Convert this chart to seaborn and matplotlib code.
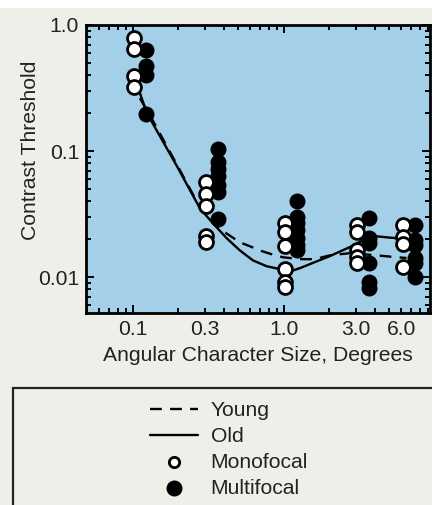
import numpy as np
import pandas as pd
import matplotlib
matplotlib.use("Agg")
import matplotlib.pyplot as plt
import matplotlib.ticker as mticker
from matplotlib.patches import Rectangle
import seaborn as sns

# ---- data ----
sizes = [0.1, 0.3, 1.0, 3.0, 6.0]
mono_vals = {
    0.1: [0.79, 0.65, 0.395, 0.32],
    0.3: [0.0564, 0.0461, 0.0364, 0.0211, 0.0189],
    1.0: [0.0267, 0.0227, 0.0176, 0.0116, 0.0091, 0.0083],
    3.0: [0.0258, 0.0227, 0.0163, 0.0144, 0.0129],
    6.0: [0.0258, 0.0207, 0.0182, 0.0120],
}
multi_vals = {
    0.1: [0.634, 0.474, 0.40, 0.198],
    0.3: [0.103, 0.0826, 0.0727, 0.064, 0.0543, 0.0478, 0.0287],
    1.0: [0.0399, 0.0298, 0.0267, 0.0235, 0.0203, 0.0179, 0.0163],
    3.0: [0.0293, 0.0203, 0.0186, 0.0129, 0.0091, 0.0082],
    6.0: [0.0258, 0.0196, 0.0179, 0.0141, 0.0129, 0.0100],
}
young_x = [0.1, 0.110, 0.136, 0.196, 0.279, 0.300, 0.407, 0.512, 0.596, 0.693,
           0.832, 0.985, 1.28, 1.60, 2.02, 2.73, 4.12, 5.58, 6.5]
young_y = [0.37, 0.27, 0.174, 0.078, 0.0357, 0.032, 0.0227, 0.0189, 0.0176, 0.0163,
           0.0152, 0.0144, 0.0139, 0.0139, 0.0149, 0.0155, 0.0149, 0.0144, 0.0142]
old_x = [0.1, 0.124, 0.196, 0.279, 0.340, 0.420, 0.512, 0.624, 0.772, 0.942,
         1.10, 1.28, 1.49, 2.02, 2.73, 3.33, 4.12, 5.02, 5.85, 6.5]
old_y = [0.42, 0.20, 0.076, 0.035, 0.0267, 0.0203, 0.0163, 0.0136, 0.0122, 0.0116,
         0.0111, 0.0118, 0.0127, 0.0147, 0.0173, 0.0196, 0.0211, 0.0206, 0.0203, 0.0201]
legend_labels = ["Young", "Old", "Monofocal", "Multifocal"]
x_tick_labels = {0.1: "0.1", 0.3: "0.3", 1.0: "1.0", 3.0: "3.0", 6.0: "6.0"}
y_tick_labels = {0.01: "0.01", 0.1: "0.1", 1.0: "1.0"}

OPEN_SHIFT = 1.02
FILLED_SHIFT = 1.23

mono_df = pd.DataFrame([(s * OPEN_SHIFT, v) for s in sizes for v in mono_vals[s]],
                       columns=["size", "thr"])
multi_df = pd.DataFrame([(s * FILLED_SHIFT, v) for s in sizes for v in multi_vals[s]],
                        columns=["size", "thr"])

sns.set_style("ticks")
plt.rcParams["font.family"] = ["Liberation Sans", "DejaVu Sans"]

PAPER = "#efefe9"
BLUE = "#a3d0e8"
TXT = "#222222"
FS = 15.2

fig = plt.figure(figsize=(4.32, 5.05), dpi=100, facecolor=PAPER)
ax = fig.add_axes([86 / 432, 1 - 313 / 505, (430 - 86) / 432, (313 - 25) / 505])
ax.set_facecolor(BLUE)

sns.lineplot(x=young_x, y=young_y, ax=ax, color="black", lw=1.7, sort=False,
             estimator=None, label="Young", zorder=2)
ax.lines[-1].set_dashes([5, 3.5])
sns.lineplot(x=old_x, y=old_y, ax=ax, color="black", lw=1.7, sort=False,
             estimator=None, label="Old", zorder=2)

sns.scatterplot(data=multi_df, x="size", y="thr", ax=ax, color="black",
                edgecolor="black", s=100, linewidth=1.5, marker="o",
                label="Multifocal", zorder=3)
sns.scatterplot(data=mono_df, x="size", y="thr", ax=ax, color="white",
                edgecolor="black", s=100, linewidth=2.0, marker="o",
                label="Monofocal", zorder=4)

ax.set_xscale("log")
ax.set_yscale("log")
ax.set_xlim(0.049, 9.3)
ax.set_ylim(0.0052, 1.0)

ax.xaxis.set_major_locator(mticker.FixedLocator([0.1, 1.0]))
ax.xaxis.set_minor_locator(mticker.LogLocator(base=10, subs=np.arange(2, 10)))
ax.xaxis.set_major_formatter(mticker.FuncFormatter(
    lambda v, p: x_tick_labels.get(round(v, 3), "")))
ax.xaxis.set_minor_formatter(mticker.FuncFormatter(
    lambda v, p: x_tick_labels.get(round(v, 3), "")))
ax.yaxis.set_major_locator(mticker.FixedLocator([0.01, 0.1, 1.0]))
ax.yaxis.set_minor_locator(mticker.LogLocator(base=10, subs=np.arange(2, 10)))
ax.yaxis.set_major_formatter(mticker.FuncFormatter(
    lambda v, p: y_tick_labels.get(round(v, 4), "")))
ax.yaxis.set_minor_formatter(mticker.NullFormatter())

ax.tick_params(which="both", direction="in", top=True, right=True,
               width=1.4, colors="black", labelsize=FS, labelcolor=TXT)
ax.tick_params(which="major", length=6, pad=5)
ax.tick_params(which="minor", length=3.5, pad=5)
for sp in ax.spines.values():
    sp.set_linewidth(2.0)
    sp.set_color("black")

ax.set_xlabel("Angular Character Size, Degrees", fontsize=FS, color=TXT,
              labelpad=5)
ax.set_ylabel("Contrast Threshold", fontsize=FS, color=TXT)
ax.yaxis.set_label_coords((40 - 86) / 344, (313 - 150) / 288)

# legend box (extends past the figure edges, as in the reference)
fig.patches.append(Rectangle((13 / 432, -0.1), 1.0, (505 - 388) / 505 + 0.1,
                             transform=fig.transFigure, facecolor="none",
                             edgecolor=TXT, lw=1.6))
# white top strip of the scan
fig.patches.append(Rectangle((0, 1 - 8 / 505), 1, 8 / 505, transform=fig.transFigure,
                             facecolor="white", edgecolor="none"))

handles, labels = ax.get_legend_handles_labels()
hmap = dict(zip(labels, handles))
leg = ax.legend([hmap[l] for l in legend_labels], legend_labels,
                loc="upper left", bbox_to_anchor=(150 / 432, 1 - 401 / 505),
                bbox_transform=fig.transFigure, frameon=False, fontsize=FS,
                handlelength=2.25, handletextpad=0.62, labelspacing=0.33,
                borderaxespad=0, borderpad=0)
for t in leg.get_texts():
    t.set_color(TXT)
lh = leg.legend_handles
lh[2].set_sizes([55])
lh[3].set_sizes([100])

fig.savefig("out.png", dpi=100, facecolor=PAPER)
